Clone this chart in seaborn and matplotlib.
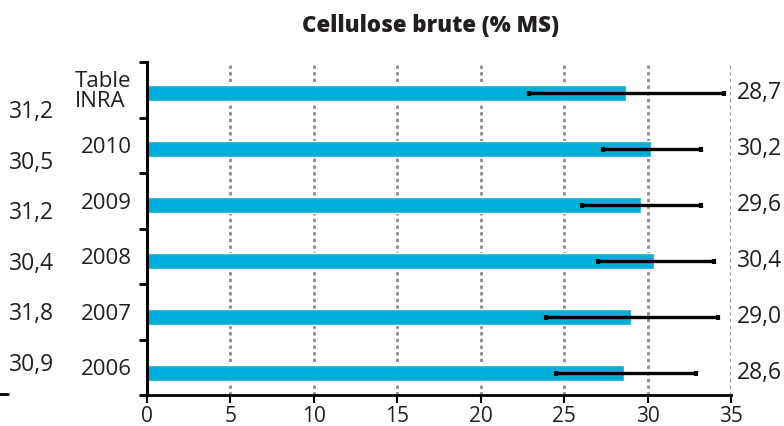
import matplotlib
matplotlib.use("Agg")
import matplotlib.pyplot as plt
import matplotlib.transforms as mtransforms
from matplotlib.lines import Line2D
import seaborn as sns
import pandas as pd
import numpy as np

# ---- data ----
categories = ["Table\nINRA", "2010", "2009", "2008", "2007", "2006"]
values = [28.7, 30.2, 29.6, 30.4, 29.0, 28.6]
value_labels = ["28,7", "30,2", "29,6", "30,4", "29,0", "28,6"]
err_low = [22.9, 27.3, 26.1, 27.0, 23.9, 24.5]
err_high = [34.6, 33.2, 33.2, 34.0, 34.2, 32.9]
left_labels = ["31,2", "30,5", "31,2", "30,4", "31,8", "30,9"]
xticks = [0, 5, 10, 15, 20, 25, 30, 35]
title = "Cellulose brute (% MS)"

sns.set_theme(style="white")
plt.rcParams["font.family"] = ["Open Sans", "DejaVu Sans"]
TXT = "#231f20"

df = pd.DataFrame({"cat": categories, "val": values})

fig = plt.figure(figsize=(7.84, 4.26), dpi=100)
ax = fig.add_axes([147 / 784, 1 - 395 / 426, (731 - 147) / 784, (395 - 62) / 426])

sns.barplot(data=df, x="val", y="cat", orient="h", color="#00afd9",
            width=0.28, saturation=1, ax=ax, errorbar=None)

ypos = np.arange(len(categories))
vals = np.array(values)
xerr = [vals - np.array(err_low), np.array(err_high) - vals]
ax.errorbar(vals, ypos, xerr=xerr, fmt="none", ecolor="black",
            elinewidth=2.4, capsize=1.8, capthick=3, zorder=5)

top, bottom = -0.554, 5.39
ax.set_ylim(bottom, top)
ax.set_xlim(0, 35)
step = (bottom - top) / len(categories)
bounds = [top + k * step for k in range(len(categories) + 1)]
centers = [top + (k + 0.5) * step for k in range(len(categories))]

ax.set_yticks(centers)
ax.set_yticklabels(categories, fontsize=16, color=TXT, linespacing=0.9)
ax.set_yticks(bounds, minor=True)
ax.tick_params(axis="y", which="major", length=0, pad=11)
ax.tick_params(axis="y", which="minor", length=6, width=2, color="black", direction="out", left=True)
for lab in ax.get_yticklabels():
    lab.set_multialignment("left")

ax.set_xticks(xticks)
ax.set_xticklabels([str(t) for t in xticks], fontsize=15, color=TXT)
ax.tick_params(axis="x", length=6, width=1.5, color="black", direction="out", pad=2, bottom=True)

ax.set_xlabel("")
ax.set_ylabel("")

for x in xticks[1:]:
    ax.axvline(x, color="#8c8c8c", linestyle=(0, (1.2, 1.2)), linewidth=2, zorder=0)

for side in ["top", "right"]:
    ax.spines[side].set_visible(False)
ax.spines["left"].set_color("black")
ax.spines["left"].set_linewidth(2.2)
ax.spines["bottom"].set_color("black")
ax.spines["bottom"].set_linewidth(2)

# value labels on the right
off = mtransforms.ScaledTranslation(4 / 72, 0, fig.dpi_scale_trans)
for y, lab in zip(ypos, value_labels):
    t = ax.text(35, y, lab, fontsize=16.5, color=TXT, ha="left", va="center", clip_on=False)
    t.set_transform(ax.transData + off)

# left column of numbers (from adjacent chart)
for k, lab in enumerate(left_labels):
    ypx = 112 + k * 50.6
    fig.text(9 / 784, 1 - ypx / 426, lab, fontsize=16.5, color=TXT, ha="left", va="center")
fig.add_artist(Line2D([0, 8 / 784], [1 - 394 / 426, 1 - 394 / 426], color="black", linewidth=2))

fig.text(430 / 784, 1 - 26 / 426, title, fontsize=16, fontweight="heavy",
         color=TXT, ha="center", va="center")

fig.savefig("out.png", dpi=100)
